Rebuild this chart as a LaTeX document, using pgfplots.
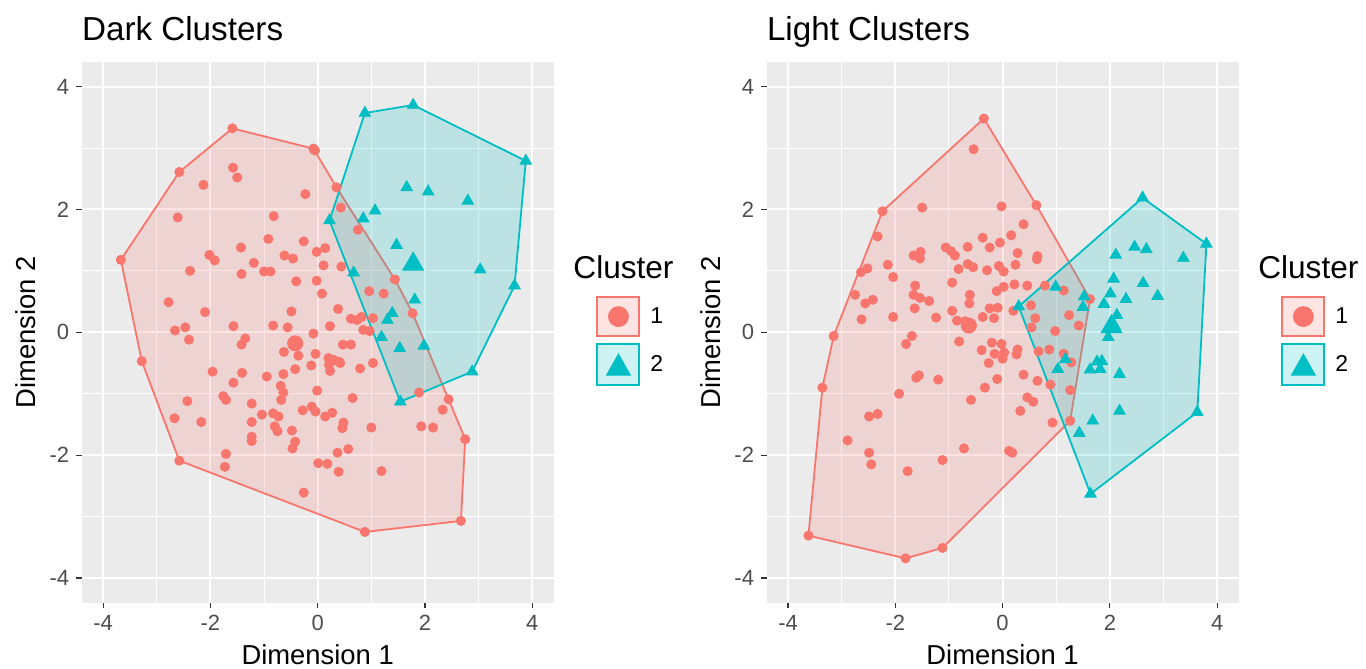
\documentclass[border=0pt]{standalone}
\usepackage{fontspec}
\setmainfont{Liberation Sans}
\usepackage{pgfplots}
\pgfplotsset{compat=1.18}
\definecolor{cred}{HTML}{F8766D}
\definecolor{cteal}{HTML}{00BFC4}
\definecolor{panel}{HTML}{EBEBEB}
\definecolor{tickc}{HTML}{4D4D4D}
\definecolor{tickm}{HTML}{333333}
\pgfplotsset{
  gg/.style={
    scale only axis, width=236pt, height=270.3pt,
    xmin=-4.4, xmax=4.4, ymin=-4.4, ymax=4.4,
    clip=false,
    axis background/.style={fill=panel},
    axis line style={draw=none},
    xtick={-4,-2,0,2,4}, ytick={-4,-2,0,2,4},
    xticklabels={-4,-2,0,2,4}, yticklabels={-4,-2,0,2,4},
    minor xtick={-3,-1,1,3}, minor ytick={-3,-1,1,3},
    tick pos=left,
    grid=both,
    major grid style={white, line width=1pt},
    minor grid style={white, line width=0.5pt},
    tick align=outside,
    major tick length=2.75pt, minor tick length=0pt,
    tick style={tickm, line width=0.6pt},
    ticklabel style={font=\fontsize{11}{13}\selectfont, text=tickc},
    title style={at={(axis description cs:0,1)}, anchor=base west, yshift=4.7pt, font=\fontsize{16.6}{19}\selectfont, inner sep=0pt},
    xlabel style={at={(axis description cs:0.5,-0.1136)}, anchor=base, font=\fontsize{13.7}{16}\selectfont, inner sep=0pt},
    ylabel style={at={(axis description cs:-0.0975,0.5)}, anchor=base, font=\fontsize{13.7}{16}\selectfont, inner sep=0pt},
    xlabel={Dimension 1}, ylabel={Dimension 2},
    legend style={at={(rel axis cs:1.0898,0.5677)}, anchor=north west, draw=none, fill=none, inner sep=0pt, row sep=2.85pt, font=\fontsize{11.5}{13}\selectfont, cells={anchor=west}, /tikz/every odd column/.append style={column sep=3pt}},
  },
  pts1/.style={forget plot, only marks, mark=*, mark size=2.3pt, color=cred},
  pts2/.style={forget plot, only marks, mark=triangle*, mark size=3.3pt, color=cteal},
  hull1/.style={forget plot, draw=cred, line width=0.9pt, line join=round, fill=cred, fill opacity=0.2},
  hull2/.style={forget plot, draw=cteal, line width=0.9pt, line join=round, fill=cteal, fill opacity=0.2},
  med1/.style={forget plot, only marks, mark=*, mark size=3.8pt, color=cred},
  med2/.style={forget plot, only marks, mark=triangle*, mark size=6pt, color=cteal},
}
\newcommand{\legendimgs}{%
  \addlegendimage{legend image code/.code={\draw[draw=cred, line width=1pt, fill=cred, fill opacity=0.2] (0pt,-9.75pt) rectangle (21pt,9.75pt); \fill[cred] (10.5pt,0pt) circle (5pt);}}
  \addlegendentry{1}
  \addlegendimage{legend image code/.code={\draw[draw=cteal, line width=1pt, fill=cteal, fill opacity=0.2] (0pt,-10.4pt) rectangle (21pt,10.4pt); \fill[cteal] (4.5pt,-5.3pt) -- (16.5pt,-5.3pt) -- (10.5pt,5.3pt) -- cycle;}}
  \addlegendentry{2}
  \node[anchor=base west, font=\fontsize{15.8}{18}\selectfont, inner sep=0pt] at (rel axis cs:1.041,0.6004) {Cluster};
}
\begin{document}
\begin{tikzpicture}
\useasboundingbox (0,0) rectangle (683pt,334.5pt);
% ---------------- Dark Clusters ----------------
\begin{axis}[gg, at={(40.85pt,33.2pt)}, anchor=south west, title={Dark Clusters}]
\addplot[pts1] coordinates {
(-1.59,3.32) (-0.08,2.99) (-0.05,2.96) (-2.58,2.61) (-3.67,1.18) (-3.28,-0.47) (-2.58,-2.09)
(0.88,-3.25) (2.67,-3.07) (2.75,-1.74) (2.44,-1.09) (0.35,2.36) (0.43,2.03) (0.75,1.67)
(1.44,0.86) (1.77,0.31) (-1.58,2.68) (-1.50,2.52) (-2.13,2.40) (-2.61,1.87) (-0.23,2.25)
(-0.82,1.89) (-0.92,1.52) (-0.26,1.48) (-1.43,1.38) (-2.02,1.26) (-1.92,1.17) (-0.02,1.31)
(0.14,1.37) (-0.62,1.25) (-0.46,1.20) (-1.19,1.13) (-2.38,1.00) (-1.42,0.95) (-1.00,0.99)
(-0.88,0.99) (0.11,1.09) (0.44,1.07) (-0.40,0.83) (-0.02,0.84) (0.08,0.63) (-2.78,0.49)
(-2.10,0.33) (-0.49,0.34) (0.38,0.38) (0.96,0.67) (1.23,0.63) (-2.66,0.03) (-2.47,0.08)
(-2.40,-0.12) (-1.57,0.10) (-0.83,0.11) (-0.56,0.08) (0.23,0.10) (0.62,0.22) (0.73,0.20)
(0.82,0.25) (0.85,0.04) (0.97,0.02) (1.03,0.23) (-1.35,-0.10) (-1.42,-0.20) (-0.08,-0.02)
(-0.63,-0.32) (-0.36,-0.38) (-0.04,-0.35) (0.20,-0.42) (0.42,-0.50) (0.47,-0.20) (0.62,-0.20)
(0.21,-0.53) (0.23,-0.63) (-0.12,-0.54) (-0.42,-0.60) (-0.64,-0.68) (0.79,-0.59) (1.03,-0.50)
(-1.96,-0.64) (-1.41,-0.66) (-1.57,-0.82) (-0.95,-0.72) (-0.69,-0.87) (-0.64,-0.98) (-0.68,-1.10)
(-0.01,-0.95) (-2.43,-1.12) (-1.76,-1.04) (-1.71,-1.10) (-1.23,-1.16) (0.65,-1.07) (1.89,-0.98)
(-2.67,-1.40) (-2.17,-1.46) (-1.23,-1.46) (-1.04,-1.34) (-0.83,-1.32) (-0.73,-1.37) (-0.28,-1.27)
(-0.11,-1.21) (-0.04,-1.29) (0.14,-1.37) (0.27,-1.31) (0.48,-1.47) (0.46,-1.56) (1.00,-1.55)
(1.93,-1.53) (2.15,-1.55) (2.33,-1.26) (-0.80,-1.53) (-0.75,-1.61) (-0.48,-1.60) (-0.42,-1.78)
(-0.47,-1.89) (-1.23,-1.70) (-1.23,-1.77) (-1.71,-1.98) (-1.73,-2.19) (0.37,-1.96) (0.57,-1.90)
(0.01,-2.13) (0.18,-2.14) (0.39,-2.27) (1.19,-2.26) (-0.26,-2.61) (0.30,-0.45) (0.40,-0.48)
};
\addplot[pts2] coordinates {
(0.22,1.82) (0.88,3.57) (1.78,3.70) (3.88,2.79) (3.67,0.76) (2.88,-0.64) (1.54,-1.13)
(1.66,2.36) (2.06,2.29) (2.80,2.14) (1.07,1.98) (0.85,1.85) (1.47,1.42) (3.03,1.02)
(0.67,0.97) (1.81,0.53) (1.39,0.31) (1.30,0.20) (1.19,-0.08) (1.53,-0.26) (1.98,-0.22)
};
\addplot[hull1] coordinates {
(-1.59,3.32) (-0.08,2.99) (0.35,2.36) (1.44,0.86) (1.77,0.31) (2.44,-1.09) (2.75,-1.74)
(2.67,-3.07) (0.88,-3.25) (-2.58,-2.09) (-3.28,-0.47) (-3.67,1.18) (-2.58,2.61) (-1.59,3.32)
};
\addplot[hull2] coordinates {
(0.22,1.82) (0.88,3.57) (1.78,3.70) (3.88,2.79) (3.67,0.76) (2.88,-0.64) (1.54,-1.13) (0.22,1.82)
};
\addplot[med1] coordinates {(-0.42,-0.18)};
\addplot[med2] coordinates {(1.78,1.11)};
\legendimgs
\end{axis}
% ---------------- Light Clusters ----------------
\begin{axis}[gg, at={(383.3pt,33.2pt)}, anchor=south west, title={Light Clusters}]
\addplot[pts1] coordinates {
(-0.35,3.48) (0.63,2.07) (1.63,0.54) (1.26,-1.44) (-1.12,-3.51) (-1.81,-3.68) (-3.62,-3.31)
(-3.36,-0.90) (-3.15,-0.06) (-2.24,1.97) (-2.33,1.56) (-0.54,2.98) (-1.50,2.03) (-0.02,2.05)
(0.39,1.76) (0.16,1.58) (-0.37,1.54) (-0.05,1.46) (-1.06,1.38) (-0.96,1.32) (-0.89,1.25)
(-0.65,1.39) (-0.24,1.38) (-1.53,1.31) (-1.66,1.25) (-1.54,1.20) (0.28,1.29) (0.65,1.24)
(0.64,1.19) (-2.14,1.10) (-2.64,0.98) (-2.52,1.04) (-0.65,1.11) (-0.55,1.06) (-0.82,1.03)
(-0.07,1.08) (0.24,1.10) (-0.29,1.01) (0.02,0.99) (-2.04,0.90) (-0.94,0.81) (-1.63,0.76)
(0.22,0.78) (0.46,0.76) (0.02,0.74) (-0.11,0.67) (-0.61,0.61) (-1.66,0.61) (-1.54,0.56)
(-1.37,0.51) (-2.75,0.61) (-2.56,0.47) (-2.42,0.53) (-0.62,0.47) (-0.94,0.35) (-1.64,0.39)
(-0.24,0.39) (-0.09,0.40) (0.20,0.35) (-2.04,0.25) (-1.24,0.24) (-2.63,0.21) (-0.85,0.19)
(-0.70,0.18) (-0.37,0.25) (-0.16,0.23) (-1.69,-0.06) (-1.80,-0.19) (-0.81,-0.15) (-0.20,-0.17)
(-0.02,-0.19) (-0.39,-0.29) (-0.15,-0.35) (0.03,-0.33) (0.00,-0.43) (0.26,-0.36) (0.28,-0.28)
(-0.26,-0.50) (0.39,-0.69) (-0.10,-0.76) (0.65,-0.79) (-1.20,-0.77) (-1.56,-0.70) (-1.61,-0.74)
(-0.33,-0.90) (-1.93,-1.00) (-0.59,-1.10) (0.46,-1.06) (0.57,-1.13) (0.33,-1.28) (-2.49,-1.37)
(-2.33,-1.33) (-2.89,-1.76) (-2.49,-1.96) (-2.45,-2.15) (-1.77,-2.26) (-0.72,-1.89) (-1.12,-2.08)
(0.12,-1.93) (0.18,-1.96) (0.93,-1.47) (0.89,-0.85) (0.53,0.44) (0.79,0.76) (1.14,0.68)
(0.61,0.23) (0.98,0.02) (1.24,0.28) (1.42,0.11) (0.67,-0.31) (0.87,-0.28) (1.14,-0.35)
(1.28,-0.49) (1.26,-0.94) (0.54,0.08)
};
\addplot[pts2] coordinates {
(0.30,0.42) (2.61,2.19) (3.80,1.44) (3.63,-1.30) (1.64,-2.63) (2.46,1.39) (2.68,1.35)
(2.11,1.26) (3.37,1.21) (2.07,0.87) (2.62,0.80) (2.89,0.59) (2.01,0.63) (2.30,0.54)
(1.89,0.46) (1.52,0.58) (1.50,0.41) (0.99,0.74) (2.13,0.28) (2.09,0.10) (1.97,-0.08)
(1.85,-0.47) (1.76,-0.48) (1.63,-0.61) (1.82,-0.60) (2.18,-0.68) (1.17,-0.44) (1.03,-0.60)
(2.18,-1.28) (1.68,-1.44) (1.43,-1.64)
};
\addplot[hull1] coordinates {
(-0.35,3.48) (0.63,2.07) (1.63,0.54) (1.26,-1.44) (-1.12,-3.51) (-1.81,-3.68) (-3.62,-3.31)
(-3.36,-0.90) (-3.15,-0.06) (-2.24,1.97) (-0.35,3.48)
};
\addplot[hull2] coordinates {
(0.30,0.42) (2.61,2.19) (3.80,1.44) (3.63,-1.30) (1.64,-2.63) (0.30,0.42)
};
\addplot[med1] coordinates {(-0.63,0.11)};
\addplot[med2] coordinates {(2.03,0.09)};
\legendimgs
\end{axis}
\end{tikzpicture}
\end{document}
